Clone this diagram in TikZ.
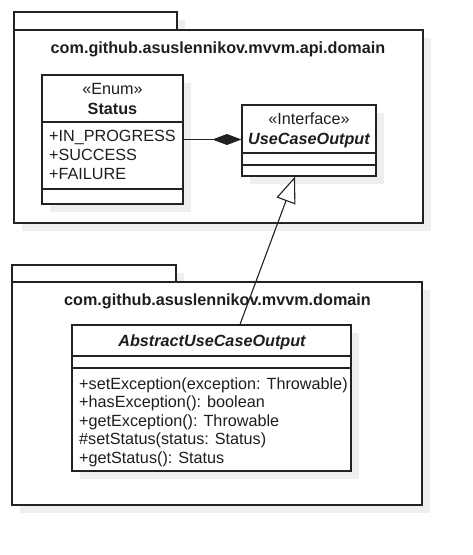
\documentclass[tikz,border=0pt]{standalone}
\usepackage{fontspec}
\setmainfont{Liberation Sans}
\usetikzlibrary{arrows.meta,calc,shadows}
\definecolor{shade}{HTML}{EEEEEE}
\definecolor{ink}{HTML}{1E1E1E}
\definecolor{edge}{HTML}{222222}
\tikzset{
  txt/.style={inner sep=0pt, anchor=base, text=ink, font=\fontsize{16.2}{18.5}\selectfont},
  btxt/.style={txt, font=\fontsize{16.2}{18.5}\selectfont\bfseries},
  bitxt/.style={txt, font=\fontsize{16.2}{18.5}\selectfont\bfseries\itshape},
  ltxt/.style={txt, anchor=base west},
  shad/.style={drop shadow={shadow xshift=8pt, shadow yshift=-8pt, fill=shade, opacity=1}},
  pkgbox/.style={draw=edge, line width=1.3pt, fill=white, rectangle, inner sep=0pt, shad},
  clsbox/.style={draw=edge, line width=1.2pt, fill=white, rectangle, inner sep=0pt, shad},
  sep/.style={draw=edge, line width=1.2pt},
  conn/.style={draw=edge, line width=1.1pt},
}
\begin{document}
\begin{tikzpicture}[x=1pt,y=-1pt]
\useasboundingbox[fill=white] (0,0) rectangle (472,555);

% ---------- top package ----------
\node[pkgbox, minimum width=163pt, minimum height=18pt] (tabA) at (95.5,21) {};
\node[pkgbox, minimum width=409pt, minimum height=193pt] (pkgA) at (218.5,126.5) {};
\node[btxt] (titleA) at (218,53) {com.github.asuslennikov.mvvm.api.domain};

% Status enum
\node[clsbox, minimum width=141pt, minimum height=129pt] (Status) at (112.5,139.5) {};
\draw[sep] (Status.west |- 0,122) -- (Status.east |- 0,122);
\draw[sep] (Status.west |- 0,189) -- (Status.east |- 0,189);
\node[txt] (enumst) at (112.5,94) {«Enum»};
\node[btxt] (statusname) at (112.5,114) {Status};
\node[ltxt] (a1) at (49,141) {+IN\_PROGRESS};
\node[ltxt] (a2) at (49,160) {+SUCCESS};
\node[ltxt] (a3) at (49,179) {+FAILURE};

% UseCaseOutput interface
\node[clsbox, minimum width=134pt, minimum height=71pt] (UCO) at (309,140.5) {};
\draw[sep] (UCO.west |- 0,153) -- (UCO.east |- 0,153);
\draw[sep] (UCO.west |- 0,165) -- (UCO.east |- 0,165);
\node[txt] (ifst) at (309,124) {«Interface»};
\node[bitxt] (uconame) at (309,144) {UseCaseOutput};

% ---------- bottom package ----------
\node[pkgbox, minimum width=164pt, minimum height=17pt] (tabB) at (94,273.5) {};
\node[pkgbox, minimum width=410pt, minimum height=223pt] (pkgB) at (217,393.5) {};
\node[btxt] (titleB) at (217.5,305) {com.github.asuslennikov.mvvm.domain};

% AbstractUseCaseOutput
\node[clsbox, minimum width=279pt, minimum height=146pt] (Abs) at (211.5,398) {};
\draw[sep] (Abs.west |- 0,356) -- (Abs.east |- 0,356);
\draw[sep] (Abs.west |- 0,368) -- (Abs.east |- 0,368);
\node[bitxt] (absname) at (212,346) {AbstractUseCaseOutput};
\node[ltxt] (m1) at (79,389) {+setException(exception: Throwable)};
\node[ltxt] (m2) at (79,407.5) {+hasException(): boolean};
\node[ltxt] (m3) at (79,426) {+getException(): Throwable};
\node[ltxt] (m4) at (79,444.5) {\#setStatus(status: Status)};
\node[ltxt] (m5) at (79,463) {+getStatus(): Status};

% ---------- connectors ----------
\draw[conn, -{Diamond[length=29pt, width=11pt, fill=edge]}] (Status.east) -- (Status.east -| UCO.west);
\draw[conn, -{Triangle[open, length=26pt, width=20pt, fill=white]}] ([xshift=28.5pt]Abs.north) -- ([xshift=-14pt]UCO.south);
\end{tikzpicture}
\end{document}
